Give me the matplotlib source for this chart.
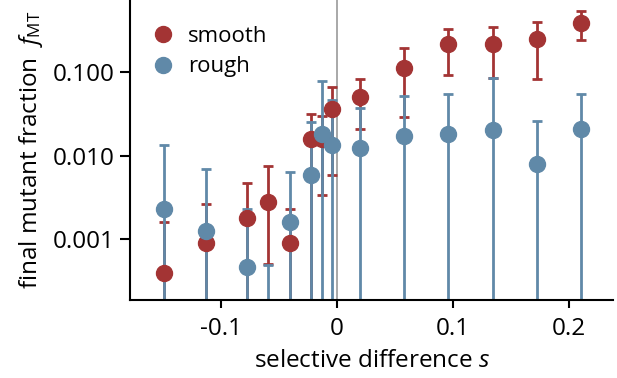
import numpy as np
import matplotlib.pyplot as plt

plt.rcParams.update({
    "font.family": "Open Sans",
    "font.size": 17.5,
    "mathtext.fontset": "custom",
    "mathtext.rm": "Open Sans",
    "mathtext.it": "Open Sans:italic",
    "axes.linewidth": 1.5,
    "xtick.major.width": 1.5,
    "ytick.major.width": 1.5,
    "xtick.major.size": 6,
    "ytick.major.size": 7,
    "xtick.major.pad": 6,
    "ytick.major.pad": 4,
})

# selective difference for each condition
s_vals = [-0.149, -0.113, -0.077, -0.059, -0.040, -0.022, -0.013, -0.004,
          0.020, 0.058, 0.096, 0.134, 0.172, 0.210]

# smooth landscape: mean and error bounds
smooth = [3.9e-4, 8.9e-4, 1.78e-3, 2.8e-3, 8.9e-4, 0.0156, 0.016, 0.036,
          0.0506, 0.111, 0.215, 0.215, 0.246, 0.383]
smooth_lo = [1e-5, 1e-5, 1e-5, 5e-4, 1e-5, 1e-5, 3.4e-3, 5.9e-3,
             0.021, 0.0287, 0.093, 0.0855, 0.083, 0.24]
smooth_hi = [1.6e-3, 2.6e-3, 4.7e-3, 7.5e-3, 2.27e-3, 0.0314, 0.030, 0.067,
             0.082, 0.192, 0.325, 0.344, 0.397, 0.542]

# rough landscape
rough = [2.27e-3, 1.26e-3, 4.7e-4, 5e-5, 1.61e-3, 5.85e-3, 0.0179, 0.0134,
         0.0122, 0.0171, 0.0181, 0.0202, 7.85e-3, 0.0207]
rough_lo = [1e-5] * 14
rough_hi = [0.0134, 7.0e-3, 2.27e-3, 4.9e-4, 6.4e-3, 0.0254, 0.078, 0.046,
            0.0374, 0.052, 0.0546, 0.0855, 0.0259, 0.0546]

red = "#A33434"
blue = "#6089A8"

fig, ax = plt.subplots(figsize=(6.17, 3.78), dpi=100)
fig.subplots_adjust(left=0.211, right=0.994, bottom=0.206, top=1.0)

ax.axvline(0, color="#999999", lw=1.2, zorder=0)

for y, lo, hi, c, z in [(smooth, smooth_lo, smooth_hi, red, 1),
                        (rough, rough_lo, rough_hi, blue, 2)]:
    y = np.array(y)
    yerr = [y - np.array(lo), np.array(hi) - y]
    ax.errorbar(s_vals, y, yerr=yerr, fmt="none", ecolor=c, elinewidth=2,
                capsize=3.5, capthick=2, zorder=z)

ax.plot(s_vals, smooth, "o", color=red, ms=11.5, zorder=3, label="smooth")
ax.plot(s_vals, rough, "o", color=blue, ms=11.5, zorder=4, label="rough")

ax.set_yscale("log")
ax.set_xlim(-0.178, 0.238)
ax.set_ylim(10 ** -3.73, 10 ** -0.138)
ax.set_yticks([0.001, 0.01, 0.1])
ax.set_yticklabels(["0.001", "0.010", "0.100"])
ax.yaxis.set_minor_locator(plt.NullLocator())
ax.set_xticks([-0.1, 0, 0.1, 0.2])
ax.set_xticklabels(["-0.1", "0", "0.1", "0.2"])

ax.spines["top"].set_visible(False)
ax.spines["right"].set_visible(False)

ax.set_xlabel("selective difference $s$", labelpad=6)
ax.set_ylabel("final mutant fraction  $f_{\\mathrm{MT}}$", labelpad=6)

ax.legend(loc="upper left", frameon=False, fontsize=16, handlelength=1.0,
          handletextpad=0.6, borderaxespad=0.0, labelspacing=0.42,
          bbox_to_anchor=(0.027, 0.943))

plt.savefig("out.png", dpi=100)
